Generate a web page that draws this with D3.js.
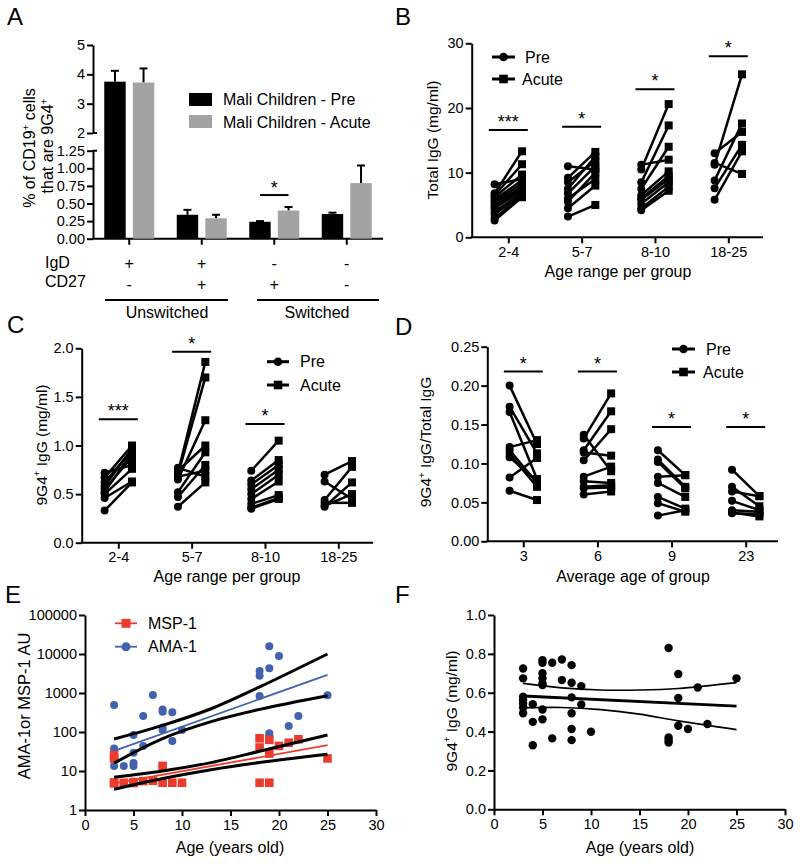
<!DOCTYPE html>
<html><head><meta charset="utf-8">
<script src="https://cdn.jsdelivr.net/npm/d3@7"></script>
<style>
body{margin:0;background:#fff;}
svg{font-family:"Liberation Sans",Arial,Helvetica,sans-serif;}
</style></head><body>
<svg id="c" width="800" height="867"></svg>
<script>
// ---------------- DATA ----------------
// Panel A
const aCats = ["IgD+CD27-", "IgD+CD27+", "IgD-CD27+", "IgD-CD27-"];
const aIgD = ["+", "+", "-", "-"];
const aCD27 = ["-", "+", "+", "-"];
const aPreMean = [3.75, 0.34, 0.24, 0.35];
const aPreSem = [0.37, 0.07, 0.01, 0.02];
const aAcuteMean = [3.72, 0.29, 0.40, 0.79];
const aAcuteSem = [0.48, 0.05, 0.05, 0.25];
const aUpperTicks = [2, 3, 4, 5];
const aLowerTicks = [0, 0.25, 0.5, 0.75, 1.0, 1.25];
const aSig = [{group: 2, level: 0.62, label: "*"}];

// Panel B  (Total IgG, mg/ml)
const ageGroups = ["2-4", "5-7", "8-10", "18-25"];
const bPre = [
  [8.2, 6.8, 6.5, 6.2, 5.8, 5.5, 5.2, 4.8, 4.5, 4.0, 3.6, 3.0, 2.6],
  [11.0, 9.2, 8.5, 7.5, 6.8, 6.0, 5.5, 4.5, 3.2],
  [11.2, 10.5, 8.5, 7.5, 6.5, 6.0, 5.2, 4.5, 4.2, 5.8],
  [13.0, 11.5, 11.2, 8.8, 7.6, 5.8]
];
const bAcute = [
  [9.0, 13.3, 11.3, 9.7, 8.8, 8.3, 7.8, 7.5, 7.2, 6.8, 6.5, 6.3, 6.2],
  [10.5, 13.2, 11.8, 12.5, 11.0, 9.0, 10.0, 8.0, 5.0],
  [12.0, 20.6, 17.3, 14.0, 10.2, 9.5, 8.5, 7.8, 7.2, 9.0],
  [16.3, 9.8, 25.2, 17.6, 14.3, 13.3]
];
const bTicks = [0, 10, 20, 30];
const bSig = [{group: 0, level: 16.6, label: "***"}, {group: 1, level: 17.1, label: "*"},
              {group: 2, level: 22.9, label: "*"}, {group: 3, level: 28.0, label: "*"}];

// Panel C  (9G4+ IgG, mg/ml)
const cPre = [
  [0.72, 0.67, 0.58, 0.55, 0.52, 0.50, 0.46, 0.33, 0.62],
  [0.72, 0.70, 0.65, 0.77, 0.74, 0.52, 0.47, 0.37, 0.68],
  [0.74, 0.64, 0.60, 0.55, 0.50, 0.45, 0.40, 0.36, 0.35],
  [0.70, 0.63, 0.44, 0.41, 0.37, 0.38]
];
const cAcute = [
  [0.80, 1.00, 0.97, 0.88, 0.93, 0.76, 0.63, 0.62, 0.95],
  [1.86, 1.70, 1.26, 0.68, 1.00, 0.93, 0.80, 0.62, 0.74],
  [1.05, 0.85, 0.80, 0.75, 0.70, 0.63, 0.49, 0.46, 0.45],
  [0.84, 0.45, 0.78, 0.41, 0.62, 0.50]
];
const cTicks = [0, 0.5, 1.0, 1.5, 2.0];
const cSig = [{group: 0, level: 1.27, label: "***"}, {group: 1, level: 1.965, label: "*"},
              {group: 2, level: 1.22, label: "*"}];

// Panel D  (9G4+ IgG / Total IgG)
const avgAges = ["3", "6", "9", "23"];
const dPre = [
  [0.200, 0.173, 0.166, 0.121, 0.117, 0.112, 0.108, 0.082, 0.065],
  [0.137, 0.132, 0.117, 0.114, 0.104, 0.083, 0.077, 0.070, 0.068, 0.060],
  [0.117, 0.105, 0.102, 0.083, 0.075, 0.057, 0.049, 0.033],
  [0.092, 0.070, 0.064, 0.052, 0.040, 0.037, 0.036]
];
const dAcute = [
  [0.125, 0.113, 0.080, 0.130, 0.075, 0.070, 0.078, 0.107, 0.053],
  [0.090, 0.190, 0.167, 0.110, 0.144, 0.096, 0.075, 0.072, 0.069, 0.064],
  [0.085, 0.070, 0.068, 0.085, 0.057, 0.042, 0.038, 0.040],
  [0.058, 0.045, 0.058, 0.040, 0.038, 0.032, 0.035]
];
const dTicks = [0, 0.05, 0.10, 0.15, 0.20, 0.25];
const dSig = [{group: 0, level: 0.218, label: "*"}, {group: 1, level: 0.218, label: "*"},
              {group: 2, level: 0.147, label: "*"}, {group: 3, level: 0.147, label: "*"}];

// Panel E  (antibody AU vs age, log scale)
const amaAge = [3, 3, 3, 4, 5, 5, 5, 5, 6, 6, 7, 8, 8, 8, 8, 8, 9, 9, 10, 18, 18, 18, 19, 19, 19, 19, 20, 21, 22, 25];
const amaVal = [490, 38, 13.5, 13.5, 84, 29.5, 16, 13.5, 257, 44, 890, 380, 330, 130, 112, 13.5, 320, 59, 112,
                3650, 2770, 835, 15800, 4300, 93, 80, 8900, 142, 257, 870];
const mspAge = [3, 3, 3, 3, 4, 5, 5, 6, 7, 8, 8, 9, 10, 18, 18, 18, 19, 19, 19, 20, 21, 22, 25];
const mspVal = [26, 21, 5.1, 4.8, 5, 5.2, 4.9, 5.5, 5.6, 13.5, 5, 5, 5, 69, 40, 5, 63, 28, 5, 44, 53, 65, 21];
const eCurveAge = [3, 8, 13, 18, 25];
const amaUpper = [66, 148, 395, 1430, 10000];
const amaLower = [16, 68, 185, 380, 850];
const mspUpper = [6.9, 10, 16.4, 32, 84];
const mspLower = [3.4, 6.4, 10.8, 16.5, 27];
const eFitAge = [3, 25];
const amaFit = [33, 2900];
const mspFit = [4.8, 46];
const eYTicks = [1, 10, 100, 1000, 10000, 100000];
const ageTicks = [0, 5, 10, 15, 20, 25, 30];

// Panel F  (9G4+ IgG vs age)
const fAge = [3, 3, 3, 3, 3, 3, 3, 4, 4, 4, 5, 5, 5, 5, 5, 5, 5, 5, 6, 6, 7, 7, 8, 8, 8, 8, 8, 8, 9, 9, 10,
              18, 18, 18, 18, 19, 19, 19, 20, 21, 22, 25];
const fVal = [0.725, 0.674, 0.579, 0.562, 0.545, 0.524, 0.494, 0.541, 0.45, 0.33, 0.768, 0.754, 0.70, 0.674, 0.648,
              0.64, 0.514, 0.463, 0.754, 0.365, 0.771, 0.665, 0.742, 0.651, 0.576, 0.494, 0.413, 0.356, 0.634, 0.54, 0.399,
              0.83, 0.37, 0.356, 0.344, 0.696, 0.573, 0.43, 0.413, 0.627, 0.439, 0.674];
const fCurveAge = [3, 7, 11, 15, 19, 25];
const fUpper = [0.648, 0.625, 0.614, 0.614, 0.622, 0.652];
const fLower = [0.522, 0.524, 0.513, 0.49, 0.455, 0.41];
const fFitAge = [3, 25];
const fFit = [0.583, 0.531];
const fYTicks = [0, 0.2, 0.4, 0.6, 0.8, 1.0];

// ---------------- DRAWING ----------------
const FONT = '"Liberation Sans", Arial, Helvetica, sans-serif';
const svg = d3.select("#c");
const TICK = 14.5, TITLE = 16;

function styleAxis(ax) {
  ax.attr("font-family", FONT);
  ax.select(".domain").attr("stroke", "#000").attr("stroke-width", 2);
  ax.selectAll(".tick line").attr("stroke", "#000").attr("stroke-width", 2);
  ax.selectAll(".tick text").attr("fill", "#000").style("font-size", TICK + "px");
}
function leftAxis(g, x, scale, ticks, fmt) {
  const ax = g.append("g").attr("transform", `translate(${x},0)`)
    .call(d3.axisLeft(scale).tickValues(ticks).tickFormat(fmt).tickSize(6).tickPadding(2).tickSizeOuter(0));
  styleAxis(ax);
  return ax;
}
function bottomAxis(g, y, scale, ticks, fmt) {
  const a = d3.axisBottom(scale).tickSize(6).tickPadding(3.5).tickSizeOuter(0);
  if (ticks) a.tickValues(ticks);
  if (fmt) a.tickFormat(fmt);
  const ax = g.append("g").attr("transform", `translate(0,${y})`).call(a);
  styleAxis(ax);
  return ax;
}
function rich(sel, parts, size) {
  let shift = 0;
  parts.forEach(p => {
    const sup = typeof p !== "string";
    const t = sel.append("tspan").text(sup ? p.sup : p);
    if (sup) { t.attr("dy", -size * 0.4).attr("font-size", size * 0.62); shift = size * 0.4; }
    else if (shift) { t.attr("dy", shift); shift = 0; }
  });
}
function yTitle(x, y, parts, size) {
  const t = svg.append("text").attr("transform", `translate(${x},${y}) rotate(-90)`)
    .attr("text-anchor", "middle").style("font-size", size + "px").attr("fill", "#000");
  rich(t, parts, size);
  return t;
}
function text(g, x, y, s, size, anchor) {
  return g.append("text").attr("x", x).attr("y", y).attr("text-anchor", anchor || "start")
    .style("font-size", size + "px").attr("fill", "#000").text(s);
}
function panelLetter(x, y, s) { text(svg, x, y, s, 24); }

// ---- Panel A ----
(function () {
  const g = svg.append("g");
  const x0 = 93, x1 = 383, yBase = 238.7;
  const aX = d3.scaleBand().domain(aCats).range([x0, x1]);
  const aSub = d3.scaleBand().domain(["Pre", "Acute"]).range([-25, 25]).paddingInner(0.25);
  const yHi = d3.scaleLinear().domain([2, 5]).range([133, 45]);
  const yLo = d3.scaleLinear().domain([0, 1.25]).range([yBase, 150.7]);
  const aY = v => v > 1.25 ? yHi(v) : yLo(v);
  const cx = c => aX(c) + aX.bandwidth() / 2;

  leftAxis(g, x0, yHi, aUpperTicks, d3.format("d"));
  leftAxis(g, x0, yLo, aLowerTicks, d3.format(".2f"));
  [133, 150.7].forEach(yy => g.append("line").attr("x1", x0).attr("x2", x0 + 4).attr("y1", yy).attr("y2", yy)
    .attr("stroke", "#000").attr("stroke-width", 2));
  // x axis
  g.append("line").attr("x1", x0 - 1).attr("x2", x1).attr("y1", yBase).attr("y2", yBase).attr("stroke", "#000").attr("stroke-width", 2);
  aCats.forEach(c => g.append("line").attr("x1", cx(c)).attr("x2", cx(c)).attr("y1", yBase).attr("y2", yBase + 6)
    .attr("stroke", "#000").attr("stroke-width", 2));

  const series = [{k: "Pre", m: aPreMean, s: aPreSem, col: "#000"}, {k: "Acute", m: aAcuteMean, s: aAcuteSem, col: "#a3a3a3"}];
  series.forEach(sr => {
    aCats.forEach((c, i) => {
      const bx = cx(c) + aSub(sr.k);
      const bw = aSub.bandwidth();
      const top = aY(sr.m[i]);
      const et = aY(sr.m[i] + sr.s[i]);
      const mx = bx + bw / 2;
      g.append("line").attr("x1", mx).attr("x2", mx).attr("y1", top).attr("y2", et).attr("stroke", "#000").attr("stroke-width", 2);
      g.append("line").attr("x1", mx - 4).attr("x2", mx + 4).attr("y1", et).attr("y2", et).attr("stroke", "#000").attr("stroke-width", 2);
      g.append("rect").attr("x", bx).attr("y", top).attr("width", bw).attr("height", yBase - top).attr("fill", sr.col);
    });
  });
  aSig.forEach(s => {
    const c = aCats[s.group];
    const xa = cx(c) + aSub("Pre") + aSub.bandwidth() / 2, xb = cx(c) + aSub("Acute") + aSub.bandwidth() / 2;
    g.append("line").attr("x1", xa).attr("x2", xb).attr("y1", yLo(s.level)).attr("y2", yLo(s.level)).attr("stroke", "#000").attr("stroke-width", 2);
    text(g, (xa + xb) / 2, yLo(s.level) - 1, s.label, 18, "middle");
  });
  // legend
  g.append("rect").attr("x", 189).attr("y", 93).attr("width", 23).attr("height", 13).attr("fill", "#000");
  g.append("rect").attr("x", 189).attr("y", 115).attr("width", 23).attr("height", 13).attr("fill", "#a3a3a3");
  text(g, 223, 105, "Mali Children - Pre", 16);
  text(g, 223, 128, "Mali Children - Acute", 16);
  // phenotype rows
  text(g, 45, 268, "IgD", 16);
  text(g, 45, 287, "CD27", 16);
  aCats.forEach((c, i) => {
    text(g, cx(c), 269, aIgD[i], 16, "middle");
    text(g, cx(c), 290, aCD27[i], 16, "middle");
  });
  g.append("line").attr("x1", 105).attr("x2", 228).attr("y1", 300).attr("y2", 300).attr("stroke", "#000").attr("stroke-width", 2);
  g.append("line").attr("x1", 257).attr("x2", 379).attr("y1", 300).attr("y2", 300).attr("stroke", "#000").attr("stroke-width", 2);
  text(g, 167, 318, "Unswitched", 16, "middle");
  text(g, 317, 318, "Switched", 16, "middle");
  // y title
  yTitle(35, 148, ["% of CD19", {sup: "+"}, " cells"], 16);
  yTitle(53, 146, ["that are 9G4", {sup: "+"}], 16);
  panelLetter(7, 25, "A");
})();

// ---- paired panels B, C, D ----
function paired(cfg) {
  const g = svg.append("g");
  const y = d3.scaleLinear().domain(cfg.yDomain).range([cfg.yBottom, cfg.yTop]);
  const x = d3.scalePoint().domain(cfg.groups).range(cfg.groupRange);
  const sub = d3.scalePoint().domain(["Pre", "Acute"]).range([-13.7, 13.7]);
  leftAxis(g, cfg.axisX, y, cfg.ticks, cfg.fmt);
  g.append("line").attr("x1", cfg.axisX - 1).attr("x2", cfg.axisEnd).attr("y1", cfg.yBottom).attr("y2", cfg.yBottom)
    .attr("stroke", "#000").attr("stroke-width", 2);
  const xa = bottomAxis(g, cfg.yBottom, x);
  xa.select(".domain").remove();

  const lineG = g.append("g"), markG = g.append("g");
  cfg.groups.forEach((grp, gi) => {
    const px = x(grp) + sub("Pre"), ax = x(grp) + sub("Acute");
    cfg.pre[gi].forEach((v, i) => {
      const a = cfg.acute[gi][i];
      lineG.append("line").attr("x1", px).attr("y1", y(v)).attr("x2", ax).attr("y2", y(a))
        .attr("stroke", "#000").attr("stroke-width", 2.5);
      markG.append("circle").attr("cx", px).attr("cy", y(v)).attr("r", 4).attr("fill", "#000");
      markG.append("rect").attr("x", ax - 4).attr("y", y(a) - 4).attr("width", 8).attr("height", 8).attr("fill", "#000");
    });
  });
  cfg.sig.forEach(s => {
    const c = x(cfg.groups[s.group]);
    g.append("line").attr("x1", c - 19.5).attr("x2", c + 19.5).attr("y1", y(s.level)).attr("y2", y(s.level))
      .attr("stroke", "#000").attr("stroke-width", 2);
    text(g, c, y(s.level) - 2, s.label, 18, "middle");
  });
  // legend
  const L = cfg.legend;
  [[L.yPre, "c"], [L.yAcute, "s"]].forEach(([yy, m]) => {
    g.append("line").attr("x1", L.x1).attr("x2", L.x2).attr("y1", yy).attr("y2", yy).attr("stroke", "#000").attr("stroke-width", 3);
    const mx = (L.x1 + L.x2) / 2;
    if (m === "c") g.append("circle").attr("cx", mx).attr("cy", yy).attr("r", 4.3).attr("fill", "#000");
    else g.append("rect").attr("x", mx - 4.3).attr("y", yy - 4.3).attr("width", 8.6).attr("height", 8.6).attr("fill", "#000");
  });
  text(g, L.preX, L.yPre + 5.5, "Pre", 16);
  text(g, L.acuteX, L.yAcute + 5.5, "Acute", 16);
  text(g, cfg.xTitleX, cfg.xTitleY, cfg.xTitle, 16, "middle");
  yTitle(cfg.yTitleX, cfg.yTitleY, cfg.yTitle, 15.5);
}

paired({axisX: 471.7, axisEnd: 763, yTop: 43.3, yBottom: 237.3, yDomain: [0, 30], ticks: bTicks, fmt: d3.format("d"),
  groups: ageGroups, groupRange: [508.3, 728.3], pre: bPre, acute: bAcute, sig: bSig,
  legend: {x1: 492, x2: 515, yPre: 57, yAcute: 79, preX: 525, acuteX: 522},
  xTitle: "Age range per group", xTitleX: 618, xTitleY: 277,
  yTitle: ["Total IgG (mg/ml)"], yTitleX: 437.5, yTitleY: 140});
panelLetter(395, 25, "B");

paired({axisX: 81.7, axisEnd: 373, yTop: 348.3, yBottom: 542.7, yDomain: [0, 2], ticks: cTicks, fmt: d3.format(".1f"),
  groups: ageGroups, groupRange: [118.3, 338.3], pre: cPre, acute: cAcute, sig: cSig,
  legend: {x1: 267, x2: 289, yPre: 361.7, yAcute: 385, preX: 300, acuteX: 300},
  xTitle: "Age range per group", xTitleX: 227, xTitleY: 582,
  yTitle: ["9G4", {sup: "+"}, " IgG (mg/ml)"], yTitleX: 46.5, yTitleY: 445});
panelLetter(7, 333, "C");

paired({axisX: 487.3, axisEnd: 778, yTop: 346.7, yBottom: 541.3, yDomain: [0, 0.25], ticks: dTicks, fmt: d3.format(".2f"),
  groups: avgAges, groupRange: [523.3, 745.7], pre: dPre, acute: dAcute, sig: dSig,
  legend: {x1: 672, x2: 695, yPre: 349, yAcute: 372, preX: 706, acuteX: 703},
  xTitle: "Average age of group", xTitleX: 633, xTitleY: 582,
  yTitle: ["9G4", {sup: "+"}, " IgG/Total IgG"], yTitleX: 431, yTitleY: 442});
panelLetter(395, 335, "D");

// ---- Panel E ----
(function () {
  const g = svg.append("g");
  const x = d3.scaleLinear().domain([0, 30]).range([85, 376]);
  const y = d3.scaleLog().domain([1, 100000]).range([810, 615]);
  leftAxis(g, 85, y, eYTicks, d3.format("d"));
  bottomAxis(g, 810, x, ageTicks, d3.format("d"));
  const RED = "#ec3b2c", BLUE = "#4262ae";
  amaAge.forEach((a, i) => g.append("circle").attr("cx", x(a)).attr("cy", y(amaVal[i])).attr("r", 4).attr("fill", BLUE));
  mspAge.forEach((a, i) => g.append("rect").attr("x", x(a) - 4.3).attr("y", y(mspVal[i]) - 4.3)
    .attr("width", 8.6).attr("height", 8.6).attr("fill", RED));
  const curve = (ages, vals, col, w) => g.append("path")
    .attr("d", d3.line().x((d, i) => x(ages[i])).y(d => y(d)).curve(d3.curveCatmullRom.alpha(0.5))(vals))
    .attr("fill", "none").attr("stroke", col).attr("stroke-width", w);
  curve(eCurveAge, amaUpper, "#000", 3);
  curve(eCurveAge, amaLower, "#000", 3);
  curve(eCurveAge, mspUpper, "#000", 3);
  curve(eCurveAge, mspLower, "#000", 3);
  curve(eFitAge, amaFit, BLUE, 1.8);
  curve(eFitAge, mspFit, RED, 1.8);
  // legend
  g.append("line").attr("x1", 115).attr("x2", 137).attr("y1", 623.3).attr("y2", 623.3).attr("stroke", RED).attr("stroke-width", 1.8);
  g.append("rect").attr("x", 126 - 4.5).attr("y", 623.3 - 4.5).attr("width", 9).attr("height", 9).attr("fill", RED);
  g.append("line").attr("x1", 115).attr("x2", 137).attr("y1", 646.7).attr("y2", 646.7).attr("stroke", BLUE).attr("stroke-width", 1.8);
  g.append("circle").attr("cx", 126).attr("cy", 646.7).attr("r", 4.5).attr("fill", BLUE);
  text(g, 148, 628.8, "MSP-1", 16);
  text(g, 148, 652.2, "AMA-1", 16);
  text(g, 230, 853, "Age (years old)", 16, "middle");
  yTitle(30, 706, ["AMA-1or MSP-1 AU"], 16.5);
  panelLetter(5, 603, "E");
})();

// ---- Panel F ----
(function () {
  const g = svg.append("g");
  const x = d3.scaleLinear().domain([0, 30]).range([494, 785]);
  const y = d3.scaleLinear().domain([0, 1]).range([809.3, 615]);
  leftAxis(g, 494, y, fYTicks, d3.format(".1f"));
  bottomAxis(g, 809.3, x, ageTicks, d3.format("d"));
  fAge.forEach((a, i) => g.append("circle").attr("cx", x(a)).attr("cy", y(fVal[i])).attr("r", 4.2).attr("fill", "#000"));
  const curve = (ages, vals, w) => g.append("path")
    .attr("d", d3.line().x((d, i) => x(ages[i])).y(d => y(d)).curve(d3.curveCatmullRom.alpha(0.5))(vals))
    .attr("fill", "none").attr("stroke", "#000").attr("stroke-width", w);
  curve(fCurveAge, fUpper, 1.6);
  curve(fCurveAge, fLower, 1.6);
  curve(fFitAge, fFit, 2.8);
  text(g, 640, 853, "Age (years old)", 16, "middle");
  yTitle(456.5, 711, ["9G4", {sup: "+"}, " IgG (mg/ml)"], 15.5);
  panelLetter(395, 603, "F");
})();
</script>
</body></html>
